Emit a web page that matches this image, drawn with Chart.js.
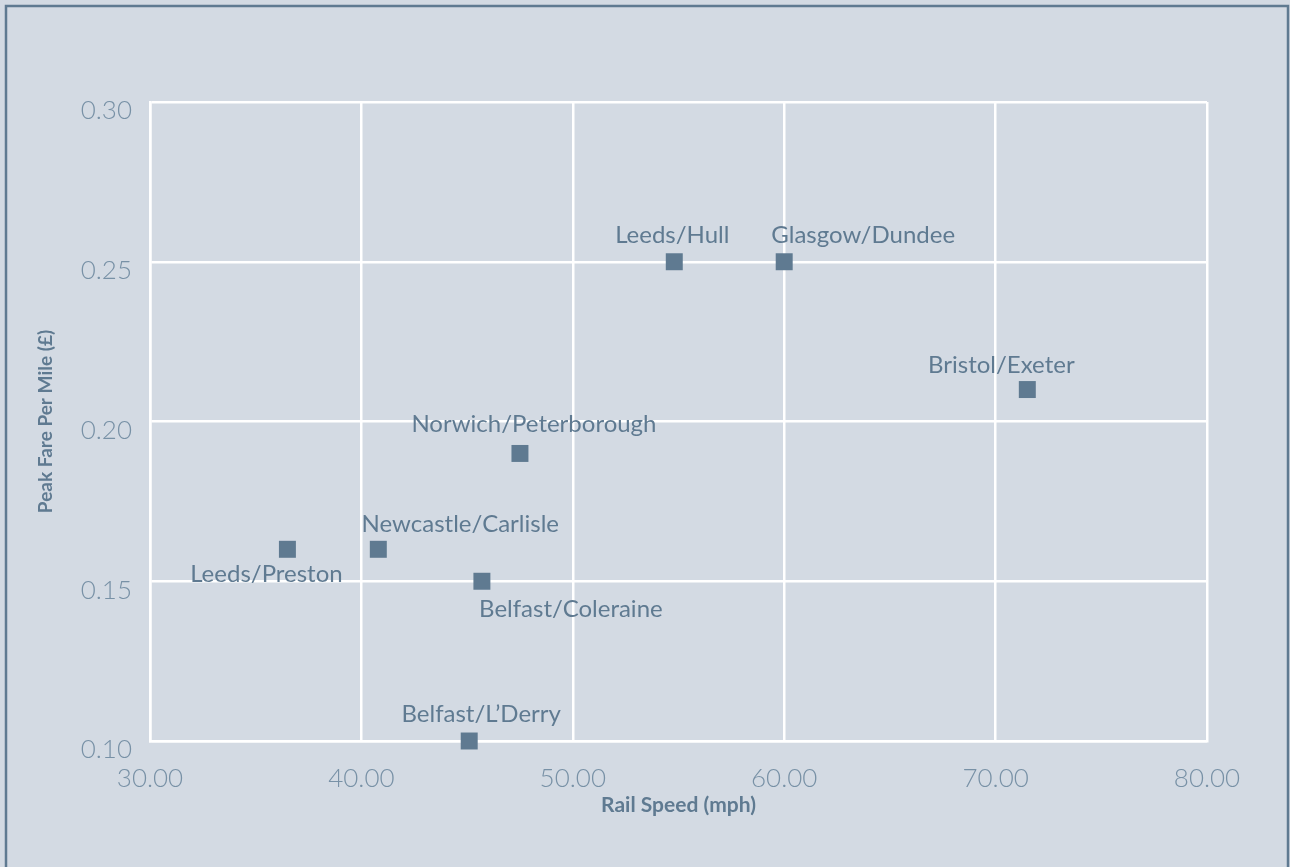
<!DOCTYPE html>
<html>
<head>
<meta charset="utf-8">
<title>Rail Speed vs Peak Fare Per Mile</title>
<script src="https://cdn.jsdelivr.net/npm/chart.js@4.4.1/dist/chart.umd.min.js"></script>
<style>
  html, body { margin: 0; padding: 0; background: #d3dae3; }
  #wrap { width: 1290px; height: 867px; position: relative; }
  canvas { display: block; }
</style>
</head>
<body>
<div id="wrap"><canvas id="chart" width="1290" height="867"></canvas></div>
<script>
// Routes with average rail speed (mph) and peak fare per mile (£)
const routes = [
  'Leeds/Hull', 'Glasgow/Dundee', 'Bristol/Exeter', 'Norwich/Peterborough',
  'Newcastle/Carlisle', 'Leeds/Preston', 'Belfast/Coleraine', "Belfast/L\u2019Derry"
];
const railSpeed = [54.8, 60.0, 71.5, 47.5, 40.8, 36.5, 45.7, 45.1];
const peakFare  = [0.25, 0.25, 0.21, 0.19, 0.16, 0.16, 0.15, 0.10];

const xTicks = [30, 40, 50, 60, 70, 80];
const yTicks = [0.10, 0.15, 0.20, 0.25, 0.30];

const INK = '#5f7a91';
const TICK = '#7891a6';
const FONT = 'Lato, "Open Sans", "DejaVu Sans", sans-serif';

// Label placement relative to each marker (horizontal shift of text centre, baseline shift)
const labelShift = [
  [-2, -19], [79, -19], [-26, -17], [14, -21],
  [82, -17], [-21, 33], [89, 36], [12, -19]
];

const points = railSpeed.map((x, i) => ({ x: x, y: peakFare[i] }));

const frame = {
  id: 'frame',
  beforeDraw(chart) {
    const c = chart.ctx;
    c.save();
    c.fillStyle = '#d3dae3';
    c.fillRect(0, 0, chart.width, chart.height);
    c.strokeStyle = INK;
    c.lineWidth = 2.5;
    c.strokeRect(6, 6, chart.width - 8, chart.height + 10);
    c.restore();
  }
};

const pointLabels = {
  id: 'pointLabels',
  afterDatasetsDraw(chart) {
    const c = chart.ctx;
    const meta = chart.getDatasetMeta(0);
    c.save();
    c.font = '24px ' + FONT;
    c.fillStyle = INK;
    c.textAlign = 'center';
    c.textBaseline = 'alphabetic';
    meta.data.forEach((el, i) => {
      const s = labelShift[i];
      c.fillText(routes[i], el.x + s[0], el.y + s[1]);
    });
    c.restore();
  }
};

new Chart(document.getElementById('chart'), {
  type: 'scatter',
  data: {
    datasets: [{
      label: 'Routes',
      data: points,
      pointStyle: 'rect',
      pointRadius: 12,
      pointHoverRadius: 12,
      pointBorderWidth: 0,
      backgroundColor: INK,
      borderColor: INK,
      clip: false
    }]
  },
  options: {
    responsive: false,
    animation: false,
    layout: { padding: { left: 0, top: 102, right: 83, bottom: 0 } },
    plugins: {
      legend: { display: false },
      tooltip: { enabled: false }
    },
    scales: {
      x: {
        type: 'linear',
        min: xTicks[0],
        max: xTicks[xTicks.length - 1],
        afterBuildTicks(scale) { scale.ticks = xTicks.map(v => ({ value: v })); },
        afterFit(scale) { scale.height = 126; },
        grid: { color: '#ffffff', lineWidth: 2.5, drawTicks: false },
        border: { color: '#ffffff', width: 2.5 },
        ticks: {
          padding: 22,
          color: TICK,
          font: { family: FONT, size: 26, weight: '300' },
          callback: v => Number(v).toFixed(2)
        },
        title: {
          display: true,
          text: 'Rail Speed (mph)',
          color: INK,
          font: { family: FONT, size: 21, weight: 'bold' },
          padding: { top: 0, bottom: 49 }
        }
      },
      y: {
        type: 'linear',
        min: yTicks[0],
        max: yTicks[yTicks.length - 1],
        afterBuildTicks(scale) { scale.ticks = yTicks.map(v => ({ value: v })); },
        afterFit(scale) { scale.width = 150; },
        grid: { color: '#ffffff', lineWidth: 2.5, drawTicks: false },
        border: { color: '#ffffff', width: 2.5 },
        ticks: {
          padding: 18,
          labelOffset: 9,
          color: TICK,
          font: { family: FONT, size: 26, weight: '300' },
          callback: v => Number(v).toFixed(2)
        },
        title: {
          display: true,
          text: 'Peak Fare Per Mile (\u00a3)',
          color: INK,
          font: { family: FONT, size: 19, weight: 'bold' },
          padding: { top: 34, bottom: 0 }
        }
      }
    }
  },
  plugins: [frame, pointLabels]
});
</script>
</body>
</html>
